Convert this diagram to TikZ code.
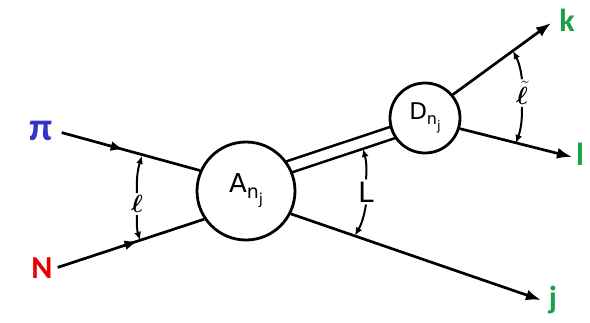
\documentclass[tikz,border=0pt]{standalone}
\usepackage{bm}
\usepackage{fontspec}
\setmainfont{DejaVu Sans}
\newfontfamily\lblfont{Carlito}
\usetikzlibrary{arrows.meta,decorations.markings,backgrounds,calc}
\definecolor{piblue}{RGB}{52,52,200}
\definecolor{nred}{RGB}{232,0,0}
\definecolor{outgreen}{RGB}{30,160,72}
\begin{document}
\begin{tikzpicture}[x=1pt,y=-1pt,
  line width=2.7pt,
  vtx/.style={circle, draw, fill=white, line width=2.8pt, inner sep=0pt},
  lab/.style={font=\lblfont\bfseries\fontsize{32}{32}\selectfont, inner sep=2pt},
  tipped/.style={-{Latex[length=15pt,width=11pt]}},
  midarrow/.style={postaction={decorate},decoration={markings, mark=at position #1 with {\arrow{Latex[length=13pt,width=10pt]}}}},
  angarr/.style={line width=2pt, -{Latex[length=8pt,width=7pt]}},
  anglab/.style={inner sep=1pt},
]
\useasboundingbox (0,0) rectangle (590,322);
% vertices
\node[vtx, minimum size=98pt] (A) at (246,191)
  {{\fontsize{26}{26}\selectfont A}\raisebox{-6pt}{\fontsize{19}{19}\selectfont n\raisebox{-6pt}{\fontsize{15}{15}\selectfont j}}};
\node[vtx, minimum size=70pt] (D) at (425,118)
  {{\fontsize{23}{23}\selectfont D}\raisebox{-5pt}{\fontsize{16}{16}\selectfont n\raisebox{-6pt}{\fontsize{13}{13}\selectfont j}}};
% labels
\node[lab, text=piblue, font=\lblfont\bfseries\fontsize{40}{40}\selectfont] (pi) at (41,131) {π};
\node[lab, text=nred] (N) at (42,268) {N};
\node[lab, text=outgreen] (k) at (567,20) {k};
\node[lab, text=outgreen] (l) at (580,154) {l};
\node[lab, text=outgreen] (j) at (553,300) {j};
% arrow tips
\coordinate (kt) at (551,23);
\coordinate (lt) at (572,157);
\coordinate (jt) at (541,300);
% double line
\begin{scope}[on background layer]
\draw[double, double distance=9.5pt, line width=2.6pt, shorten <=-6pt, shorten >=-6pt] (A.29) -- (D.204);
\end{scope}
% lines
\draw[midarrow=0.47, shorten <=6pt] (pi.east) -- (A.156);
\draw[midarrow=0.55, shorten <=2pt] (N.east) -- (A.214);
\draw[tipped] (D.40) -- (kt);
\draw[tipped] (D.343) -- (lt);
\draw[tipped] (A.333) -- (jt);
% angle labels and arcs
\coordinate (c1) at (142,156);
\coordinate (c2) at (140,240);
\coordinate (c3) at (363,149);
\coordinate (c4) at (355,235.5);
\coordinate (c5) at (513,51);
\coordinate (c6) at (516,143);
\node[anglab] (ell) at (137,204) {\fontsize{30}{30}\selectfont$\bm{\ell}$};
\node[anglab] (L) at (366,192) {\fontsize{28}{28}\selectfont L};
\node[anglab] (elt) at (522,93) {\fontsize{28}{28}\selectfont$\bm{\tilde{\ell}}$};
\draw[angarr] (ell.north) to[bend left=10] (c1);
\draw[angarr] (ell.south) to[bend right=10] (c2);
\draw[angarr] (L.north) to[bend right=10] (c3);
\draw[angarr] (L.south) to[bend left=10] (c4);
\draw[angarr] (elt.north) to[bend right=10] (c5);
\draw[angarr] (elt.south) to[bend left=10] (c6);
\end{tikzpicture}
\end{document}
